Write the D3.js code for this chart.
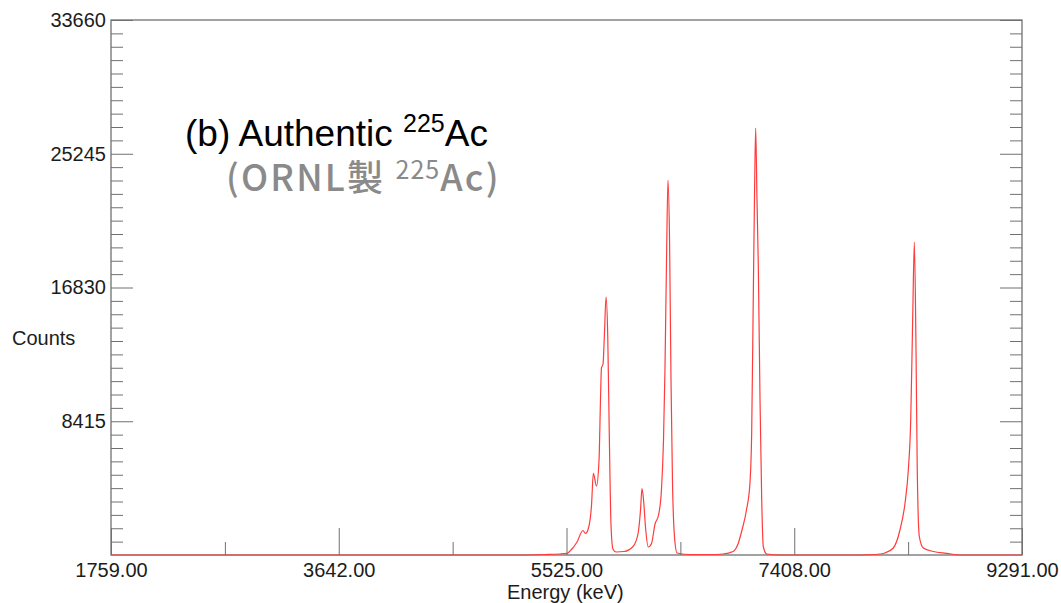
<!DOCTYPE html>
<html>
<head>
<meta charset="utf-8">
<script src="https://cdn.jsdelivr.net/npm/d3@7"></script>
<style>
  body { margin: 0; background: #fff; }
  svg { display: block; }
</style>
</head>
<body>
<script>
// spectrum (keV, counts)
let energy = [1759, 5140, 5347, 5471, 5529, 5570, 5612, 5661, 5682, 5711, 5732, 5747, 5773, 5794,
  5806, 5814, 5827, 5838, 5852, 5866, 5879, 5893, 5909, 5934, 6000, 6075, 6116, 6137, 6149, 6162,
  6178, 6201, 6228, 6257, 6286, 6310, 6327, 6339, 6352, 6364, 6377, 6389, 6401, 6418, 6439, 6546,
  6711, 6819, 6902, 6943, 6976, 7013, 7042, 7056, 7069, 7079, 7089, 7100, 7111, 7125, 7139, 7152,
  7180, 7290, 7952, 8076, 8158, 8227, 8282, 8324, 8351, 8371, 8387, 8401, 8415, 8425, 8442, 8475,
  8558, 8668, 8778, 9291];
let counts = [0, 0, 30, 63, 107, 377, 818, 1541, 1353, 1825, 3146, 5140, 4341, 5977,
  9752, 11765, 12017, 13779, 16232, 13779, 7487, 1887, 377, 189, 220, 535, 1321, 2831, 4184, 3460,
  1762, 503, 724, 1950, 2517, 4090, 7235, 11640, 18560, 23594, 19818, 11010, 4719, 1132, 126, 30,
  30, 63, 220, 692, 1573, 2831, 4530, 7676, 16044, 22335, 26865, 22335, 18120, 9752, 3460, 535,
  63, 0, 0, 30, 126, 440, 1573, 3272, 5348, 8494, 14785, 19693, 12709, 5348, 1164, 440,
  220, 107, 0, 0];

let xTicks = [1759, 3642, 5525, 7408, 9291];
let yTicks = [8415, 16830, 25245, 33660];
let yMax = 33660;

let width = 1061,
  height = 603,
  m = { left: 111, right: 1022, top: 20, bottom: 555 };

let data = energy.map((e, i) => [e, counts[i]]);

let x = d3.scaleLinear().domain([xTicks[0], xTicks[xTicks.length - 1]]).range([m.left, m.right]);
let y = d3.scaleLinear().domain([0, yMax]).range([m.bottom, m.top]);

let svg = d3.select("body").append("svg")
  .attr("width", width)
  .attr("height", height)
  .attr("font-family", "'Liberation Sans', Arial, sans-serif");

let axisColor = "#707070";

// mid ticks between the labelled x ticks
let xMid = d3.pairs(xTicks).map(p => (p[0] + p[1]) / 2);
// minor y ticks, 10 per labelled step
let yStep = yTicks[0] / 10;
let yMinor = d3.range(1, 40).filter(i => i % 10 != 0).map(i => i * yStep);

function styleAxis(g) {
  g.select(".domain").remove();
  g.selectAll(".tick line").attr("stroke", axisColor);
  g.selectAll(".tick text").attr("fill", "#1c1c1c").attr("font-size", "20px").attr("font-family", null);
}

// bottom
svg.append("g").attr("transform", `translate(0,${m.bottom})`)
  .call(d3.axisBottom(x).tickValues(xTicks).tickSize(-27).tickPadding(8).tickFormat(d3.format(".2f")))
  .call(styleAxis);
svg.append("g").attr("transform", `translate(0,${m.bottom})`)
  .call(d3.axisBottom(x).tickValues(xMid).tickSize(-13).tickFormat(""))
  .call(styleAxis);

// left
svg.append("g").attr("transform", `translate(${m.left},0)`)
  .call(d3.axisLeft(y).tickValues(yTicks).tickSize(-22).tickPadding(5).tickFormat(d3.format("d")))
  .call(styleAxis);
svg.append("g").attr("transform", `translate(${m.left},0)`)
  .call(d3.axisLeft(y).tickValues(yMinor).tickSize(-12).tickFormat(""))
  .call(styleAxis);

// right, ticks only
svg.append("g").attr("transform", `translate(${m.right},0)`)
  .call(d3.axisRight(y).tickValues(yTicks).tickSize(-22).tickFormat(""))
  .call(styleAxis);
svg.append("g").attr("transform", `translate(${m.right},0)`)
  .call(d3.axisRight(y).tickValues(yMinor).tickSize(-12).tickFormat(""))
  .call(styleAxis);

// frame
svg.append("rect")
  .attr("x", m.left).attr("y", m.top)
  .attr("width", m.right - m.left).attr("height", m.bottom - m.top)
  .attr("fill", "none")
  .attr("stroke", axisColor)
  .attr("stroke-width", 1.3);

// spectrum
let line = d3.line()
  .x(d => x(d[0]))
  .y(d => y(d[1]))
  .curve(d3.curveMonotoneX);

svg.append("path")
  .datum(data)
  .attr("d", line)
  .attr("fill", "none")
  .attr("stroke", "#ff3b3b")
  .attr("stroke-width", 1.2);

// axis titles
svg.append("text").text("Counts")
  .attr("x", 12).attr("y", 345)
  .attr("font-size", "20px").attr("fill", "#1c1c1c");

svg.append("text").text("Energy (keV)")
  .attr("x", 507).attr("y", 599)
  .attr("font-size", "20px").attr("fill", "#1c1c1c");

// annotation
let title = svg.append("text")
  .attr("x", 185).attr("y", 146)
  .attr("font-size", "37px").attr("fill", "#000");
title.append("tspan").text("(b) Authentic ");
title.append("tspan").text("225").attr("font-size", "25px").attr("dy", -14);
title.append("tspan").text("Ac").attr("dy", 14);

let sub = svg.append("text")
  .attr("x", 226).attr("y", 191)
  .attr("font-family", "'Noto Sans CJK JP', 'Noto Sans', sans-serif")
  .attr("font-weight", 500)
  .attr("letter-spacing", 2.2)
  .attr("font-size", "36px").attr("fill", "#8a8a8a");
sub.append("tspan").text("(ORNL製 ");
sub.append("tspan").text("225").attr("font-size", "25px").attr("font-weight", 400).attr("letter-spacing", 1).attr("dy", -12);
sub.append("tspan").text("Ac)").attr("dy", 12);
</script>
</body>
</html>
